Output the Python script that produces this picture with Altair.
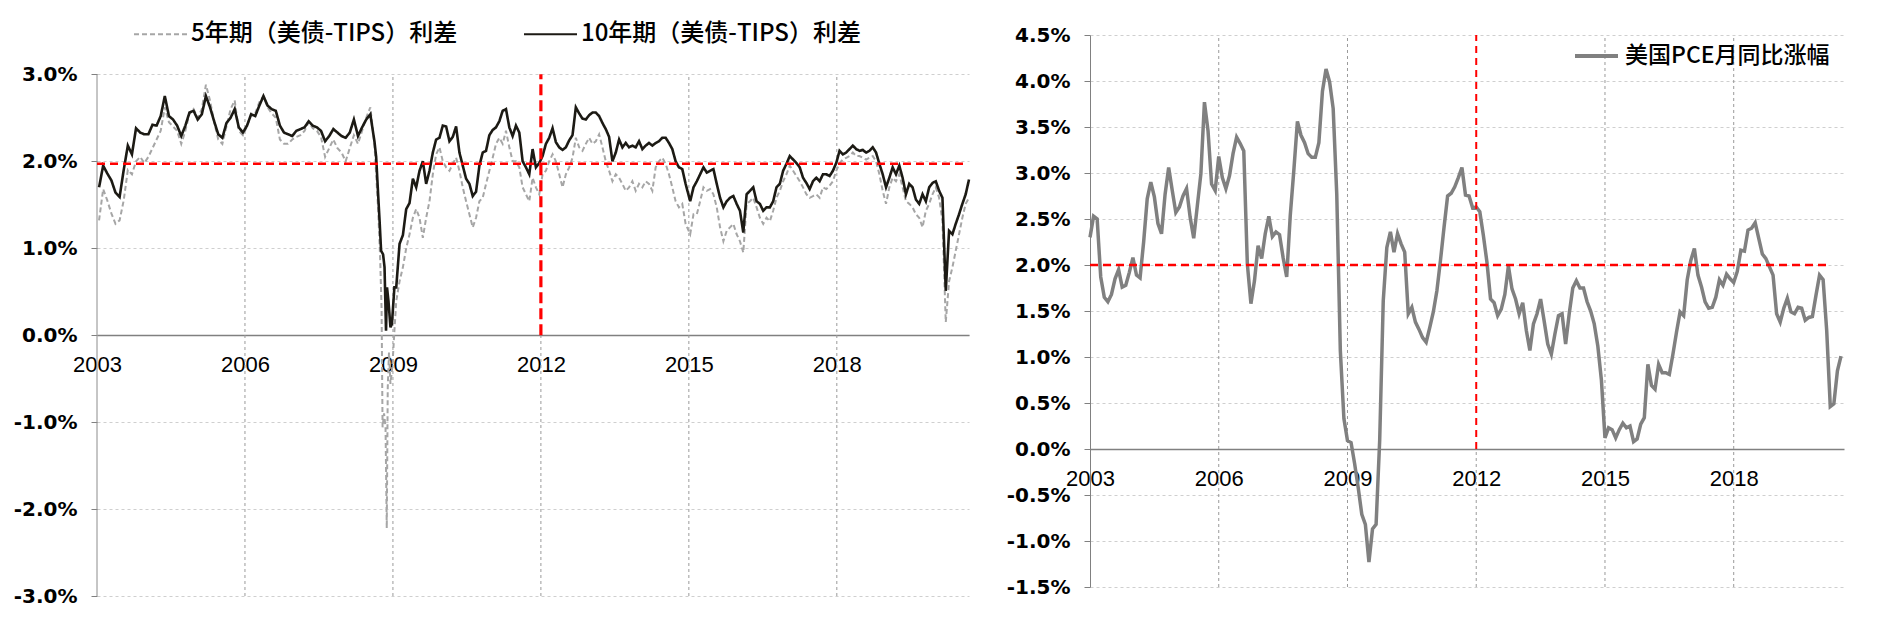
import altair as alt
import numpy as np
import pandas as pd

# ---------------- left panel: breakeven spreads (%) ----------------
S5 = "5年期（美债-TIPS）利差"
S10 = "10年期（美债-TIPS）利差"

# monthly readings, Jan 2003 - Aug 2008
be10_monthly = [
    1.70, 1.95, 1.86, 1.78, 1.64, 1.59, 1.90, 2.18, 2.08, 2.38, 2.33, 2.31,
    2.31, 2.42, 2.41, 2.52, 2.75, 2.52, 2.48, 2.41, 2.29, 2.41, 2.56, 2.58,
    2.48, 2.54, 2.75, 2.62, 2.46, 2.31, 2.27, 2.44, 2.50, 2.60, 2.39, 2.33,
    2.41, 2.54, 2.52, 2.64, 2.75, 2.64, 2.60, 2.58, 2.41, 2.33, 2.31, 2.29,
    2.35, 2.37, 2.39, 2.46, 2.41, 2.39, 2.35, 2.23, 2.29, 2.37, 2.33, 2.29,
    2.27, 2.33, 2.48, 2.29, 2.39, 2.48, 2.54, 2.23,
]
be5_monthly = [
    1.32, 1.68, 1.55, 1.40, 1.28, 1.32, 1.55, 1.90, 1.85, 2.00, 2.05, 1.98,
    2.05, 2.15, 2.25, 2.35, 2.62, 2.45, 2.40, 2.35, 2.20, 2.35, 2.55, 2.60,
    2.50, 2.60, 2.88, 2.70, 2.45, 2.25, 2.20, 2.40, 2.60, 2.70, 2.35, 2.30,
    2.40, 2.55, 2.55, 2.68, 2.75, 2.62, 2.55, 2.50, 2.25, 2.20, 2.20, 2.25,
    2.28, 2.30, 2.35, 2.45, 2.38, 2.35, 2.28, 2.05, 2.15, 2.25, 2.15, 2.10,
    2.00, 2.15, 2.30, 2.20, 2.35, 2.50, 2.62, 2.20,
]

# crisis detail, Sep 2008 - Jan 2009 (decimal year, value)
crisis_t10 = [2008.66, 2008.70, 2008.73, 2008.76, 2008.80, 2008.83, 2008.86,
              2008.88, 2008.91, 2008.95, 2008.98, 2009.03]
crisis_v10 = [2.05, 1.62, 1.31, 0.97, 0.93, 0.78, 0.05, 0.55, 0.39, 0.09, 0.13, 0.55]
crisis_t5 = [2008.66, 2008.70, 2008.74, 2008.77, 2008.79, 2008.82, 2008.85,
             2008.875, 2008.895, 2008.92, 2008.95, 2008.99, 2009.03]
crisis_v5 = [1.85, 1.45, 0.90, 0.30, -1.06, -0.90, -1.06, -2.22, -0.60, -0.20,
             -0.56, -0.35, 0.05]

# 2009 - 2014 readings (evenly sampled across this span)
span_c = (2009.067, 2014.934)
be10_c = [
    0.55, 1.05, 1.15, 1.45, 1.52, 1.80, 1.70, 1.89, 2.00, 1.74,
    1.89, 2.10, 2.25, 2.27, 2.41, 2.40, 2.23, 2.28, 2.40, 2.10,
    1.95, 1.80, 1.74, 1.60, 1.65, 1.95, 2.10, 2.12, 2.30, 2.36,
    2.39, 2.46, 2.58, 2.60, 2.39, 2.29, 2.41, 2.33, 2.00, 1.93,
    1.85, 2.14, 1.93, 1.98, 2.06, 2.20, 2.27, 2.38, 2.22, 2.16,
    2.13, 2.16, 2.24, 2.30, 2.62, 2.55, 2.49, 2.48, 2.53, 2.56,
    2.56, 2.52, 2.44, 2.37, 2.28, 2.00, 2.10, 2.25, 2.16, 2.21,
    2.16, 2.18, 2.16, 2.23, 2.14, 2.18, 2.21, 2.18, 2.21, 2.23,
    2.27, 2.27, 2.21, 2.14, 2.00, 1.93, 1.91, 1.74,
]
be5_c = [
    0.39, 0.62, 0.78, 1.00, 1.16, 1.35, 1.45, 1.35, 1.12, 1.35,
    1.54, 1.85, 2.08, 2.16, 2.00, 1.93, 1.89, 1.97, 2.04, 1.89,
    1.70, 1.54, 1.39, 1.24, 1.35, 1.54, 1.58, 1.74, 1.89, 2.04,
    2.20, 2.27, 2.20, 2.35, 2.16, 2.00, 2.00, 1.93, 1.70, 1.62,
    1.54, 1.81, 1.70, 1.62, 1.85, 1.89, 2.00, 2.08, 2.00, 1.85,
    1.70, 1.85, 1.93, 2.04, 2.27, 2.16, 2.12, 2.20, 2.27, 2.20,
    2.23, 2.31, 2.16, 2.00, 1.89, 1.77, 1.85, 1.81, 1.74, 1.66,
    1.70, 1.77, 1.66, 1.74, 1.70, 1.77, 1.74, 1.66, 1.93, 2.00,
    2.04, 1.97, 1.85, 1.70, 1.54, 1.47, 1.51, 1.28,
]

# 2015 - 2020 readings (evenly sampled across this span)
span_d = (2015.027, 2020.68)
be10_d = [
    1.54, 1.70, 1.77, 1.85, 1.93, 1.87, 1.89, 1.91, 1.74, 1.58,
    1.47, 1.54, 1.58, 1.60, 1.51, 1.43, 1.18, 1.62, 1.66, 1.70,
    1.54, 1.51, 1.43, 1.47, 1.47, 1.54, 1.70, 1.74, 1.89, 1.97,
    2.06, 2.02, 1.98, 1.93, 1.81, 1.75, 1.68, 1.77, 1.81, 1.77,
    1.85, 1.85, 1.83, 1.89, 1.98, 2.12, 2.08, 2.10, 2.14, 2.18,
    2.14, 2.12, 2.13, 2.10, 2.12, 2.16, 2.10, 1.97, 1.85, 1.70,
    1.81, 1.93, 1.85, 1.95, 1.81, 1.62, 1.74, 1.70, 1.56, 1.51,
    1.62, 1.54, 1.70, 1.75, 1.77, 1.66, 1.58, 0.51, 1.20, 1.16,
    1.28, 1.39, 1.51, 1.62, 1.79,
]
be5_d = [
    1.16, 1.39, 1.39, 1.54, 1.70, 1.66, 1.68, 1.62, 1.47, 1.24,
    1.08, 1.20, 1.24, 1.28, 1.16, 1.08, 0.95, 1.51, 1.54, 1.58,
    1.47, 1.35, 1.28, 1.35, 1.31, 1.43, 1.58, 1.66, 1.77, 1.85,
    1.95, 1.89, 1.83, 1.77, 1.70, 1.62, 1.58, 1.60, 1.62, 1.58,
    1.70, 1.68, 1.72, 1.77, 1.89, 1.98, 2.02, 2.04, 2.06, 2.10,
    2.06, 2.06, 2.04, 2.02, 2.04, 2.06, 2.00, 1.85, 1.66, 1.51,
    1.70, 1.81, 1.77, 1.85, 1.70, 1.54, 1.51, 1.47, 1.39, 1.35,
    1.24, 1.43, 1.51, 1.62, 1.70, 1.58, 1.31, 0.15, 0.62, 0.78,
    0.97, 1.16, 1.35, 1.51, 1.58,
]

# ---------------- right panel: PCE YoY (%) ----------------
PCE = "美国PCE月同比涨幅"
pce_start_year = 2003
pce = [
    2.30, 2.53, 2.50, 1.87, 1.65, 1.60, 1.68, 1.85, 1.95, 1.76, 1.78, 1.92,
    2.08, 1.89, 1.86, 2.25, 2.72, 2.90, 2.74, 2.45, 2.34, 2.77, 3.06, 2.81,
    2.57, 2.63, 2.75, 2.83, 2.52, 2.29, 2.64, 2.99, 3.77, 3.46, 2.88, 2.81,
    3.18, 2.95, 2.83, 2.97, 3.21, 3.39, 3.32, 3.24, 2.01, 1.58, 1.83, 2.21,
    2.07, 2.34, 2.53, 2.31, 2.36, 2.33, 2.08, 1.87, 2.54, 3.03, 3.56, 3.41,
    3.33, 3.21, 3.17, 3.17, 3.33, 3.89, 4.13, 3.99, 3.70, 2.77, 1.07, 0.33,
    0.09, 0.07, -0.16, -0.42, -0.71, -0.82, -1.23, -0.87, -0.82, 0.09, 1.61, 2.19,
    2.36, 2.14, 2.34, 2.23, 2.14, 1.47, 1.54, 1.38, 1.30, 1.21, 1.16, 1.32,
    1.49, 1.72, 2.05, 2.41, 2.75, 2.78, 2.85, 2.95, 3.06, 2.76, 2.75, 2.62,
    2.63, 2.58, 2.32, 2.03, 1.63, 1.59, 1.45, 1.52, 1.68, 1.99, 1.74, 1.63,
    1.47, 1.59, 1.29, 1.07, 1.36, 1.47, 1.63, 1.39, 1.14, 1.03, 1.25, 1.45,
    1.47, 1.14, 1.47, 1.75, 1.83, 1.75, 1.75, 1.60, 1.50, 1.36, 1.12, 0.75,
    0.12, 0.23, 0.21, 0.12, 0.21, 0.28, 0.23, 0.25, 0.08, 0.11, 0.27, 0.34,
    0.92, 0.69, 0.65, 0.92, 0.83, 0.83, 0.81, 1.03, 1.27, 1.49, 1.45, 1.84,
    2.05, 2.18, 1.89, 1.76, 1.60, 1.53, 1.54, 1.65, 1.84, 1.78, 1.90, 1.85,
    1.81, 1.93, 2.16, 2.15, 2.38, 2.40, 2.46, 2.29, 2.12, 2.07, 1.98, 1.89,
    1.47, 1.38, 1.53, 1.64, 1.49, 1.47, 1.54, 1.53, 1.40, 1.43, 1.44, 1.67,
    1.89, 1.84, 1.29, 0.46, 0.49, 0.85, 1.01,
]

tick_years = [2003, 2006, 2009, 2012, 2015, 2018]
grid_years = [2006, 2009, 2015, 2018]


def build(monthly, ct, cv, c, d):
    t = [2003 + (i + 0.5) / 12 for i in range(len(monthly))]
    t += list(ct)
    t += list(np.linspace(span_c[0], span_c[1], len(c)))
    t += list(np.linspace(span_d[0], span_d[1], len(d)))
    v = list(monthly) + list(cv) + list(c) + list(d)
    return t, v


t10, v10 = build(be10_monthly, crisis_t10, crisis_v10, be10_c, be10_d)
t5, v5 = build(be5_monthly, crisis_t5, crisis_v5, be5_c, be5_d)
df10 = pd.DataFrame({"t": t10, "v": v10, "s": S10})
df5 = pd.DataFrame({"t": t5, "v": v5, "s": S5})
dfp = pd.DataFrame({"t": [pce_start_year + i / 12 for i in range(len(pce))],
                    "v": pce, "s": PCE})

LABEL_EXPR = "replace(format(datum.value, '.1f'), '\u2212', '-') + '%'"
XFONT = "Liberation Sans"
YFONT = "DejaVu Sans"
CJK_FONT = "Noto Sans CJK SC"


def x_enc(domain, offset, field="t"):
    return alt.X(
        f"{field}:Q",
        scale=alt.Scale(domain=domain, nice=False, zero=False),
        axis=alt.Axis(values=tick_years, format="d", title=None, grid=False,
                      ticks=False, domain=True, domainColor="#808080",
                      domainWidth=1.5, labelFont=XFONT, labelFontSize=22,
                      labelColor="#000000", labelPadding=19, labelFlush=False,
                      labelOverlap=False, offset=offset),
    )


def y_enc(domain, values, show_domain, field="v"):
    return alt.Y(
        f"{field}:Q",
        scale=alt.Scale(domain=domain, nice=False, zero=False),
        axis=alt.Axis(values=values, labelExpr=LABEL_EXPR, title=None,
                      grid=True, gridColor="#cfcfcf", gridDash=[3, 3],
                      gridWidth=1, domain=show_domain, domainColor="#808080",
                      domainWidth=1, ticks=True, tickSize=6,
                      tickColor="#808080", labelFont=YFONT,
                      labelFontWeight="bold", labelFontSize=20,
                      labelColor="#000000", labelPadding=14),
    )


# ---------- left chart ----------
LX = [2003, 2020.68]
LY = [-3, 3.452]
LVALS = [-3, -2, -1, 0, 1, 2, 3]
LOFF = -261

vgrid_l = pd.DataFrame({"t": grid_years + [2012],
                        "v": [-3] * 5, "v2": [3, 3, 3, 3, 0]})
yline_l = pd.DataFrame({"t": [2003], "v": [-3], "v2": [3]})
red_h_l = pd.DataFrame({"t": [2003], "t2": [2020.6], "v": [1.97]})
red_v_l = pd.DataFrame({"t": [2012], "v": [0], "v2": [3]})

leg_l = alt.Legend(orient="none", legendX=36, legendY=-28.5,
                   direction="horizontal", symbolType="stroke",
                   symbolSize=2809, symbolStrokeWidth=2, labelFont=CJK_FONT,
                   labelFontSize=24, labelFontWeight=500, labelColor="#000000",
                   labelOffset=3, columnPadding=64, title=None,
                   labelLimit=600, padding=0)
col_l = alt.Color("s:N", scale=alt.Scale(domain=[S5, S10],
                                         range=["#a6a6a6", "#1c1a14"]),
                  legend=leg_l)
dash_l = alt.StrokeDash("s:N", scale=alt.Scale(domain=[S5, S10],
                                               range=[[5, 3], [1, 0]]),
                        legend=leg_l)

l_vgrid = alt.Chart(vgrid_l).mark_rule(color="#9a9a9a", strokeWidth=1,
                                       strokeDash=[3, 3]).encode(
    x=x_enc(LX, LOFF), y=y_enc(LY, LVALS, False), y2="v2:Q")
l_yline = alt.Chart(yline_l).mark_rule(color="#8c8c8c", strokeWidth=1).encode(
    x=x_enc(LX, LOFF), y=y_enc(LY, LVALS, False), y2="v2:Q")
l_5 = alt.Chart(df5).mark_line(strokeWidth=2).encode(
    x=x_enc(LX, LOFF), y=y_enc(LY, LVALS, False), color=col_l,
    strokeDash=dash_l)
l_10 = alt.Chart(df10).mark_line(strokeWidth=2.6).encode(
    x=x_enc(LX, LOFF), y=y_enc(LY, LVALS, False), color=col_l,
    strokeDash=dash_l)
l_red_h = alt.Chart(red_h_l).mark_rule(color="#ff0000", strokeWidth=2.5,
                                       strokeDash=[8, 5]).encode(
    x=x_enc(LX, LOFF), x2="t2:Q", y=y_enc(LY, LVALS, False))
l_red_v = alt.Chart(red_v_l).mark_rule(color="#ff0000", strokeWidth=3.2,
                                       strokeDash=[11, 5]).encode(
    x=x_enc(LX, LOFF), y=y_enc(LY, LVALS, False), y2="v2:Q")

left = alt.layer(l_vgrid, l_yline, l_5, l_10, l_red_h, l_red_v).properties(
    width=872, height=561)

# ---------- right chart ----------
RX = [2003, 2020.57]
RY = [-1.5, 4.5]
RVALS = [-1.5, -1, -0.5, 0, 0.5, 1, 1.5, 2, 2.5, 3, 3.5, 4, 4.5]
ROFF = -138

vgrid_r = pd.DataFrame({"t": grid_years + [2012],
                        "v": [-1.5] * 5, "v2": [4.5, 4.5, 4.5, 4.5, 0]})
red_h_r = pd.DataFrame({"t": [2003], "t2": [2020.25], "v": [2.0]})
red_v_r = pd.DataFrame({"t": [2012], "v": [0], "v2": [4.5]})

leg_r = alt.Legend(orient="none", legendX=483, legendY=-2.5,
                   direction="horizontal", symbolType="stroke",
                   symbolSize=1849, symbolStrokeWidth=4, labelFont=CJK_FONT,
                   labelFontSize=23, labelFontWeight=500, labelColor="#000000",
                   labelOffset=5, title=None, labelLimit=600, padding=0)

r_vgrid = alt.Chart(vgrid_r).mark_rule(color="#9a9a9a", strokeWidth=1,
                                       strokeDash=[3, 3]).encode(
    x=x_enc(RX, ROFF), y=y_enc(RY, RVALS, True), y2="v2:Q")
r_line = alt.Chart(dfp).mark_line(strokeWidth=3.5).encode(
    x=x_enc(RX, ROFF), y=y_enc(RY, RVALS, True),
    color=alt.Color("s:N", scale=alt.Scale(domain=[PCE], range=["#808080"]),
                    legend=leg_r))
r_red_h = alt.Chart(red_h_r).mark_rule(color="#ff0000", strokeWidth=2.5,
                                       strokeDash=[8, 5]).encode(
    x=x_enc(RX, ROFF), x2="t2:Q", y=y_enc(RY, RVALS, True))
r_red_v = alt.Chart(red_v_r).mark_rule(color="#ff0000", strokeWidth=2,
                                       strokeDash=[7, 5]).encode(
    x=x_enc(RX, ROFF), y=y_enc(RY, RVALS, True), y2="v2:Q")

right = alt.layer(r_vgrid, r_line, r_red_h, r_red_v).properties(
    width=754, height=552)

chart = alt.hconcat(left, right, spacing=121, bounds="flush").resolve_scale(
    color="independent", strokeDash="independent"
).resolve_legend(color="independent", strokeDash="independent").properties(
    padding={"left": 13, "top": 6, "right": 5, "bottom": 5}
).configure_view(stroke=None)

chart.save("out.html", embed_options={"renderer": "svg", "actions": False})
